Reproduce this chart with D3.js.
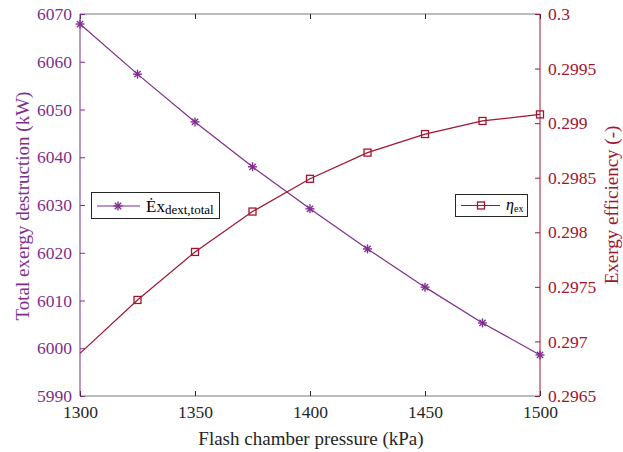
<!DOCTYPE html>
<html><head><meta charset="utf-8">
<script src="https://cdn.jsdelivr.net/npm/d3@7/dist/d3.min.js"></script>
</head><body style="margin:0">
<script>
const pressure = [1300,1325,1350,1375,1400,1425,1450,1475,1500];
const exDest = [6067.9,6057.4,6047.4,6038.0,6029.2,6020.8,6012.8,6005.3,5998.6];
const etaEx = [0.29689,0.29738,0.29782,0.29819,0.29849,0.29873,0.29890,0.29902,0.29908];
const xTicks = [1300,1350,1400,1450,1500];
const yLeftTicks = [5990,6000,6010,6020,6030,6040,6050,6060,6070];
const yRightTicks = [0.2965,0.297,0.2975,0.298,0.2985,0.299,0.2995,0.3];
const yRightLabels = ["0.2965","0.297","0.2975","0.298","0.2985","0.299","0.2995","0.3"];

const W=623,H=452;
const FONT='"Liberation Serif"';
const purple="#7E2F8E", red="#A2142F";
const svg=d3.select("body").append("svg").attr("width",W).attr("height",H).style("display","block").style("font-family",FONT);
const x=d3.scaleLinear().domain([1300,1500]).range([80,540]);
const yL=d3.scaleLinear().domain([5990,6070]).range([396,14]);
const yR=d3.scaleLinear().domain([0.2965,0.3]).range([396,14]);

function txt(sel){ return sel.attr("font-family",null).style("font-family",FONT); }

// top/bottom frame lines
svg.append("line").attr("x1",80).attr("x2",540).attr("y1",14).attr("y2",14).attr("stroke","#a6a6a6").attr("stroke-width",1.5);
svg.append("line").attr("x1",80).attr("x2",540).attr("y1",396).attr("y2",396).attr("stroke","#a6a6a6").attr("stroke-width",1.5);

// bottom axis
const xb=svg.append("g").attr("transform","translate(0,396)")
  .call(d3.axisBottom(x).tickValues(xTicks).tickSize(-5).tickPadding(10).tickFormat(d3.format("d")));
xb.attr("font-family",null).attr("font-size",null);
xb.select(".domain").remove();
xb.selectAll("line").attr("stroke","#262626");
txt(xb.selectAll("text")).attr("font-size",17.5).attr("fill","#262626");
// top ticks
const xt=svg.append("g").attr("transform","translate(0,14)")
  .call(d3.axisTop(x).tickValues(xTicks).tickSize(-5).tickFormat(""));
xt.select(".domain").remove();
xt.selectAll("line").attr("stroke","#262626");

// left axis
const yl=svg.append("g").attr("transform","translate(80,0)")
  .call(d3.axisLeft(yL).tickValues(yLeftTicks).tickSize(-5).tickPadding(8).tickFormat(d3.format("d")));
yl.attr("font-family",null).attr("font-size",null);
yl.select(".domain").attr("stroke",purple).attr("d","M0,14V396");
yl.selectAll("line").attr("stroke",purple);
txt(yl.selectAll("text")).attr("font-size",17.5).attr("fill",purple);

// right axis
const yr=svg.append("g").attr("transform","translate(540,0)")
  .call(d3.axisRight(yR).tickValues(yRightTicks).tickSize(-5).tickPadding(8).tickFormat((d,i)=>yRightLabels[i]));
yr.attr("font-family",null).attr("font-size",null);
yr.select(".domain").attr("stroke",red).attr("d","M0,14V396");
yr.selectAll("line").attr("stroke",red);
txt(yr.selectAll("text")).attr("font-size",17.5).attr("fill",red);

// axis titles
txt(svg.append("text")).attr("x",311).attr("y",445).attr("text-anchor","middle").attr("font-size",19).attr("fill","#262626").text("Flash chamber pressure (kPa)");
txt(svg.append("text")).attr("transform","translate(29,206) rotate(-90)").attr("text-anchor","middle").attr("font-size",19).attr("fill",purple).text("Total exergy destruction (kW)");
txt(svg.append("text")).attr("transform","translate(618,205) rotate(-90)").attr("text-anchor","middle").attr("font-size",19).attr("fill",red).text("Exergy efficiency (-)");

// lines
const lineL=d3.line().x((d,i)=>x(pressure[i])).y(d=>yL(d));
const lineR=d3.line().x((d,i)=>x(pressure[i])).y(d=>yR(d));
svg.append("path").attr("d",lineL(exDest)).attr("fill","none").attr("stroke",purple).attr("stroke-width",1.2);
svg.append("path").attr("d",lineR(etaEx)).attr("fill","none").attr("stroke",red).attr("stroke-width",1.2);

function star(g,cx,cy,r,col){
  const a=g.append("g").attr("transform",`translate(${cx},${cy})`);
  [[0,-r,0,r],[-r,0,r,0],[-r*0.7,-r*0.7,r*0.7,r*0.7],[-r*0.7,r*0.7,r*0.7,-r*0.7]].forEach(s=>
    a.append("line").attr("x1",s[0]).attr("y1",s[1]).attr("x2",s[2]).attr("y2",s[3]).attr("stroke",col).attr("stroke-width",1.4));
}
function square(g,cx,cy,s,col){
  g.append("rect").attr("x",cx-s/2).attr("y",cy-s/2).attr("width",s).attr("height",s).attr("fill","none").attr("stroke",col).attr("stroke-width",1.3);
}
exDest.forEach((d,i)=>star(svg,x(pressure[i]),yL(d),4.5,purple));
etaEx.forEach((d,i)=>{ if(i>0) square(svg,x(pressure[i]),yR(d),7,red); });

// legends
const lg1=svg.append("g");
lg1.append("rect").attr("x",91.5).attr("y",192.5).attr("width",128).attr("height",26).attr("fill","#fff").attr("stroke","#262626").attr("stroke-width",1);
lg1.append("line").attr("x1",97).attr("x2",140).attr("y1",206).attr("y2",206).attr("stroke",purple).attr("stroke-width",1.2);
star(lg1,118,206,4.5,purple);
const t1=txt(lg1.append("text")).attr("x",146).attr("y",212).attr("font-size",17).attr("fill","#000");
t1.append("tspan").text("Ėx");
t1.append("tspan").attr("font-size",13).attr("dy",2).text("dext,total");

const lg2=svg.append("g");
lg2.append("rect").attr("x",455.5).attr("y",194.5).attr("width",72).attr("height",22).attr("fill","#fff").attr("stroke","#262626").attr("stroke-width",1);
lg2.append("line").attr("x1",461).attr("x2",500).attr("y1",205.5).attr("y2",205.5).attr("stroke",red).attr("stroke-width",1.2);
square(lg2,481,205.5,7,red);
const t2=txt(lg2.append("text")).attr("x",506).attr("y",210).attr("font-size",16).attr("fill","#000").style("font-style","italic");
t2.append("tspan").text("η");
t2.append("tspan").attr("font-size",10).attr("dy",2).style("font-style","normal").text("ex");
</script>
</body></html>
